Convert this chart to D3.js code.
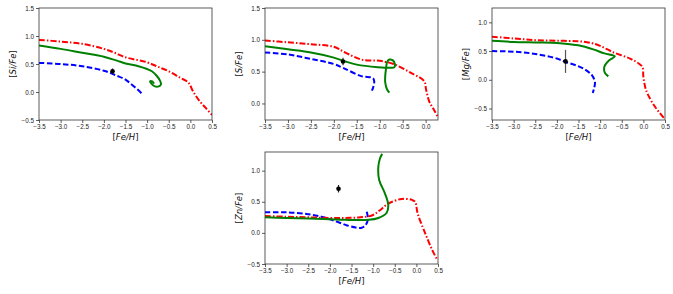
<!DOCTYPE html>
<html>
<head>
<meta charset="utf-8">
<script src="https://cdn.jsdelivr.net/npm/d3@7"></script>
<style>
  body { margin: 0; background: #fff; }
  svg { font-family: "DejaVu Sans", sans-serif; }
  .tick text { font-size: 6.3px; fill: #222; }
  .axis path, .axis line { stroke: #333; stroke-width: 0.8; }
</style>
</head>
<body>
<svg width="673" height="294"></svg>
<script>
// [Si/Fe] vs [Fe/H]
var siRed = [[-3.5,0.93],[-3.0,0.9],[-2.5,0.86],[-2.0,0.77],[-1.75,0.7],[-1.5,0.62],[-1.0,0.53],[-0.75,0.45],[-0.5,0.37],[-0.25,0.26],[-0.05,0.17],[0.07,0.0],[0.22,-0.17],[0.35,-0.28],[0.5,-0.41]];
var siGreen = [[-3.5,0.83],[-3.0,0.77],[-2.5,0.7],[-2.0,0.63],[-1.7,0.56],[-1.5,0.51],[-1.2,0.46],[-1.0,0.41],[-0.89,0.37],[-0.78,0.29],[-0.7,0.2],[-0.68,0.14],[-0.73,0.1],[-0.82,0.1],[-0.9,0.15],[-0.93,0.19],[-0.88,0.19],[-0.84,0.15]];
var siBlue = [[-3.5,0.52],[-3.0,0.5],[-2.5,0.46],[-2.0,0.38],[-1.7,0.29],[-1.5,0.22],[-1.35,0.13],[-1.2,0.03],[-1.12,-0.03]];

// [S/Fe]
var sRed = [[-3.5,0.99],[-3.0,0.96],[-2.5,0.93],[-2.0,0.89],[-1.75,0.8],[-1.4,0.69],[-1.0,0.67],[-0.7,0.62],[-0.32,0.48],[-0.03,0.35],[0.01,0.22],[0.08,0.03],[0.19,-0.11],[0.27,-0.22]];
var sGreen = [[-3.5,0.9],[-3.0,0.85],[-2.5,0.8],[-2.0,0.72],[-1.75,0.66],[-1.5,0.61],[-1.04,0.57],[-0.75,0.56],[-0.68,0.57],[-0.67,0.62],[-0.72,0.68],[-0.79,0.69],[-0.84,0.65],[-0.86,0.56],[-0.88,0.43],[-0.88,0.33],[-0.84,0.22],[-0.79,0.17]];
var sBlue = [[-3.5,0.8],[-3.0,0.77],[-2.5,0.7],[-2.0,0.62],[-1.8,0.56],[-1.4,0.43],[-1.15,0.4],[-1.12,0.35],[-1.14,0.26],[-1.17,0.2]];

// [Mg/Fe]
var mgRed = [[-3.5,0.75],[-3.0,0.72],[-2.5,0.69],[-2.0,0.68],[-1.5,0.67],[-1.2,0.64],[-1.0,0.59],[-0.7,0.48],[-0.31,0.37],[-0.1,0.28],[-0.02,0.22],[0.0,0.05],[0.05,-0.15],[0.1,-0.25],[0.27,-0.47],[0.5,-0.69]];
var mgGreen = [[-3.5,0.68],[-3.0,0.66],[-2.5,0.65],[-2.0,0.64],[-1.7,0.62],[-1.5,0.6],[-1.16,0.53],[-0.9,0.46],[-0.66,0.41],[-0.79,0.34],[-0.9,0.23],[-0.89,0.12],[-0.81,0.06]];
var mgBlue = [[-3.5,0.5],[-3.0,0.49],[-2.5,0.45],[-2.0,0.37],[-1.8,0.31],[-1.55,0.25],[-1.35,0.18],[-1.19,0.08],[-1.12,-0.04],[-1.14,-0.15],[-1.17,-0.23]];

// [Zn/Fe]
var znRed = [[-3.5,0.27],[-3.0,0.26],[-2.5,0.25],[-2.0,0.24],[-1.65,0.24],[-1.3,0.25],[-1.03,0.28],[-0.85,0.36],[-0.65,0.47],[-0.34,0.545],[-0.1,0.53],[-0.03,0.5],[0.03,0.31],[0.2,0.0],[0.37,-0.28],[0.49,-0.44]];
var znGreen = [[-3.5,0.25],[-3.0,0.24],[-2.5,0.23],[-2.0,0.22],[-1.65,0.21],[-1.1,0.21],[-0.88,0.24],[-0.69,0.32],[-0.65,0.45],[-0.73,0.64],[-0.86,0.85],[-0.88,1.06],[-0.84,1.2],[-0.79,1.27]];
var znBlue = [[-3.5,0.33],[-3.0,0.33],[-2.5,0.3],[-2.2,0.26],[-2.0,0.22],[-1.8,0.17],[-1.6,0.12],[-1.4,0.085],[-1.28,0.08],[-1.18,0.12],[-1.12,0.22],[-1.14,0.32],[-1.16,0.38]];

// observed point per panel
var obsX = [-1.8, -1.8, -1.8, -1.8];
var obsY = [0.37, 0.66, 0.32, 0.71];
var obsErr = [0.05, 0.06, 0.2, 0.06];

var labels = ["Si/Fe", "S/Fe", "Mg/Fe", "Zn/Fe"];
var xTicksFull = [-3.5, -3.0, -2.5, -2.0, -1.5, -1.0, -0.5, 0.0, 0.5];
var xTicksS = [-3.5, -3.0, -2.5, -2.0, -1.5, -1.0, -0.5, 0.0];
var yTicksSi = [-0.5, 0.0, 0.5, 1.0, 1.5];
var yTicksS = [0.0, 0.5, 1.0, 1.5];
var yTicksMg = [-0.5, 0.0, 0.5, 1.0];

var panels = [
  {box: [39, 8, 212, 120], xd: [-3.5, 0.5], yd: [-0.5, 1.5], xt: xTicksFull, yt: yTicksSi, red: siRed, green: siGreen, blue: siBlue},
  {box: [265, 8, 438, 120], xd: [-3.5, 0.27], yd: [-0.26, 1.5], xt: xTicksS, yt: yTicksS, red: sRed, green: sGreen, blue: sBlue},
  {box: [492, 8, 665, 120], xd: [-3.5, 0.5], yd: [-0.7, 1.25], xt: xTicksFull, yt: yTicksMg, red: mgRed, green: mgGreen, blue: mgBlue},
  {box: [265, 152, 438, 264], xd: [-3.5, 0.5], yd: [-0.5, 1.3], xt: xTicksFull, yt: yTicksMg, red: znRed, green: znGreen, blue: znBlue}
];

var svg = d3.select("svg");
var fmt = function(d) { return d3.format(".1f")(d).replace("-", "\u2212"); };

panels.forEach(function(p, i) {
  var x = d3.scaleLinear().domain(p.xd).range([p.box[0], p.box[2]]);
  var y = d3.scaleLinear().domain(p.yd).range([p.box[3], p.box[1]]);
  var g = svg.append("g");

  var clipId = "clip" + i;
  g.append("clipPath").attr("id", clipId)
    .append("rect")
    .attr("x", p.box[0]).attr("y", p.box[1])
    .attr("width", p.box[2] - p.box[0]).attr("height", p.box[3] - p.box[1]);

  var line = d3.line()
    .x(function(d) { return x(d[0]); })
    .y(function(d) { return y(d[1]); })
    .curve(d3.curveCatmullRom.alpha(0.5));

  var plot = g.append("g").attr("clip-path", "url(#" + clipId + ")");

  plot.append("path").datum(p.blue)
    .attr("d", line).attr("fill", "none")
    .attr("stroke", "#0000ff").attr("stroke-width", 2)
    .attr("stroke-dasharray", "5.5,2.5");

  plot.append("path").datum(p.red)
    .attr("d", line).attr("fill", "none")
    .attr("stroke", "#ff0000").attr("stroke-width", 2)
    .attr("stroke-dasharray", "6,2,1.5,2");

  plot.append("path").datum(p.green)
    .attr("d", line).attr("fill", "none")
    .attr("stroke", "#008000").attr("stroke-width", 2);

  // error bar + point
  g.append("line")
    .attr("x1", x(obsX[i])).attr("x2", x(obsX[i]))
    .attr("y1", y(obsY[i] - obsErr[i])).attr("y2", y(obsY[i] + obsErr[i]))
    .attr("stroke", i == 2 ? "#555" : "#222").attr("stroke-width", 1.2);
  g.append("circle")
    .attr("cx", x(obsX[i])).attr("cy", y(obsY[i])).attr("r", 2.3)
    .attr("fill", "#000");

  // frame
  g.append("rect")
    .attr("x", p.box[0]).attr("y", p.box[1])
    .attr("width", p.box[2] - p.box[0]).attr("height", p.box[3] - p.box[1])
    .attr("fill", "none").attr("stroke", "#333").attr("stroke-width", 0.8);

  g.append("g").attr("class", "axis")
    .attr("transform", "translate(0," + p.box[3] + ")")
    .call(d3.axisBottom(x).tickValues(p.xt).tickFormat(fmt).tickSize(3).tickPadding(2).tickSizeOuter(0));
  g.append("g").attr("class", "axis")
    .attr("transform", "translate(" + p.box[0] + ",0)")
    .call(d3.axisLeft(y).tickValues(p.yt).tickFormat(fmt).tickSize(3).tickPadding(2).tickSizeOuter(0));
  g.selectAll(".axis .domain").remove();

  // x label
  var xl = g.append("text")
    .attr("x", (p.box[0] + p.box[2]) / 2).attr("y", p.box[3] + 20)
    .attr("text-anchor", "middle").attr("font-size", 8.5).attr("fill", "#111");
  xl.append("tspan").text("[");
  xl.append("tspan").attr("font-style", "italic").text("Fe/H");
  xl.append("tspan").text("]");

  // y label
  var cy = (p.box[1] + p.box[3]) / 2;
  var yl = g.append("text")
    .attr("transform", "translate(" + (p.box[0] - 23) + "," + cy + ") rotate(-90)")
    .attr("text-anchor", "middle").attr("font-size", 8.5).attr("fill", "#111");
  yl.append("tspan").text("[");
  yl.append("tspan").attr("font-style", "italic").text(labels[i]);
  yl.append("tspan").text("]");
});
</script>
</body>
</html>
